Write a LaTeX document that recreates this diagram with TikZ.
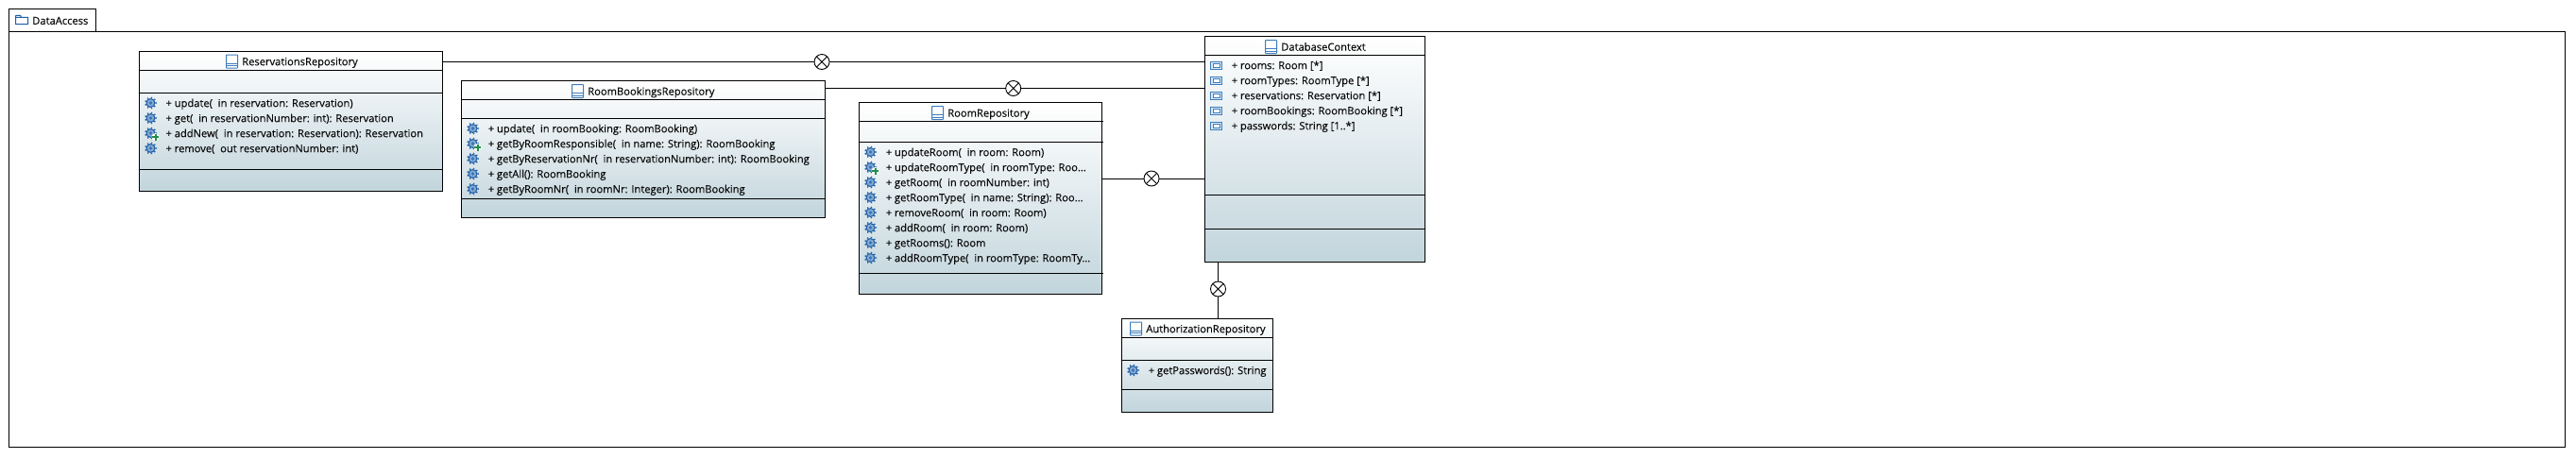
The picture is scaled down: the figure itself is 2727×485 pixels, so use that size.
\documentclass[tikz,border=0pt]{standalone}
\usepackage{fontspec}
\setmainfont{Open Sans}[FakeBold=0.2]
\definecolor{boxbot}{HTML}{C2D5DC}
\definecolor{gearblue}{HTML}{1F5FA8}
\definecolor{gearlight}{HTML}{86ABD3}
\definecolor{gearmid}{HTML}{3B74B4}
\definecolor{iconblue}{HTML}{3F7DBA}
\definecolor{iconfill}{HTML}{DCE9F5}
\definecolor{plusgreen}{HTML}{1F8F4B}
\definecolor{txt}{HTML}{0A0A0A}
\newcommand{\gearshape}{%
  \foreach \a in {0,40,...,320} {\fill[gearblue] (\a:5.6pt) circle (0.95pt);}
  \fill[gearblue] (0,0) circle (5pt);
  \fill[gearlight] (0,0) circle (3.7pt);
  \fill[gearmid] (0,0) circle (1.8pt);
}
\tikzset{
  x=1pt,y=-1pt,
  pkgframe/.style={draw=black,line width=1pt,fill=white,anchor=north west,inner sep=0pt,outer sep=0pt},
  classbox/.style={draw=black,line width=1pt,top color=white,bottom color=boxbot,anchor=north west,inner sep=0pt,outer sep=0pt},
  sepline/.style={draw=black,line width=1pt},
  conn/.style={draw=black,line width=1pt},
  nest/.style={circle,draw=black,line width=0.9pt,fill=white,minimum size=16pt,inner sep=0pt,outer sep=0pt},
  rowtext/.style={anchor=base west,inner sep=0pt,outer sep=0pt,text=txt,font=\fontsize{11.15}{13}\selectfont},
  gearicon/.pic={\gearshape},
  addgearicon/.pic={
    \gearshape
    \fill[white] (5,4) circle (4pt);
    \draw[plusgreen,line width=2pt] (5,0.5) -- (5,7.5) (1.5,4) -- (8.5,4);
  },
  attricon/.pic={
    \draw[iconblue,line width=1pt,fill=iconfill] (-6,-4) rectangle (6,4);
    \draw[iconblue,line width=0.8pt,fill=white] (-3.5,-2) rectangle (3.5,2);
  },
  classicon/.pic={
    \draw[iconblue,line width=1pt,fill=white,rounded corners=0.5pt] (-6,-7) rectangle (6,7);
    \draw[iconblue,line width=1pt] (-6,2) -- (6,2) (-6,4.5) -- (6,4.5);
  },
  foldericon/.pic={
    \draw[gearblue,line width=1pt,fill=white] (-6.5,-4.5) -- (-6.5,4.7) -- (6.5,4.7) -- (6.5,-2.5) -- (-6.5,-2.5) (-6.5,-4.5) -- (-1.5,-4.5) -- (-0.5,-2.5);
  }
}
% #1 name, #2 x, #3 y, #4 width, #5 height
\newcommand{\umlbox}[5]{\node[classbox,minimum width=#4pt,minimum height=#5pt] (#1) at (#2,#3) {};}
% #1 xa, #2 xb, #3 y
\newcommand{\sep}[3]{\draw[sepline] (#1,#3) -- (#2,#3);}
% #1 name, #2 icon x, #3 text x, #4 y centre, #5 text
\newcommand{\titlerow}[5]{\pic at (#2,#4) {classicon}; \node[rowtext] (#1) at (#3,#4+4.2) {#5};}
% #1 name, #2 icon style, #3 icon x, #4 text x, #5 y, #6 text
\newcommand{\featrow}[6]{\pic at (#3,#5) {#2}; \node[rowtext] (#1) at (#4,#5+4.2) {#6};}
\newcommand{\nestmark}[3]{\node[nest] (#1) at (#2,#3) {}; \draw[black,line width=0.9pt] (#1.45) -- (#1.225) (#1.135) -- (#1.315);}
\begin{document}
\begin{tikzpicture}
\useasboundingbox (0,0) rectangle (2727,485);
\fill[white] (0,0) rectangle (2727,485);
% package
\node[pkgframe,minimum width=2706pt,minimum height=440pt] (pkg) at (9.5,33) {};
\node[pkgframe,minimum width=92pt,minimum height=23.5pt] (tab) at (9.5,9.5) {};
\pic at (23,20.8) {foldericon};
\node[rowtext] (tabname) at (34.3,25.9) {DataAccess};
% ReservationsRepository
\umlbox{res}{147.5}{54.5}{320.5}{147.5}
\sep{146.5}{468}{74.5}\sep{146.5}{468}{98.5}\sep{146.5}{468}{179.5}
\titlerow{resname}{245.5}{256.3}{65}{ReservationsRepository}
\featrow{res1}{gearicon}{159.5}{175.5}{109}{+ update(~~in reservation: Reservation)}
\featrow{res2}{gearicon}{159.5}{175.5}{125}{+ get(~~in reservationNumber: int): Reservation}
\featrow{res3}{addgearicon}{159.5}{175.5}{141}{+ addNew(~~in reservation: Reservation): Reservation}
\featrow{res4}{gearicon}{159.5}{175.5}{157}{+ remove(~~out reservationNumber: int)}
% RoomBookingsRepository
\umlbox{book}{488.5}{85.5}{385}{145}
\sep{487.5}{873.5}{105.5}\sep{487.5}{873.5}{125.5}\sep{487.5}{873.5}{210.5}
\titlerow{bookname}{611.5}{622.3}{96.5}{RoomBookingsRepository}
\featrow{book1}{gearicon}{500.5}{516.7}{136}{+ update(~~in roomBooking: RoomBooking)}
\featrow{book2}{addgearicon}{500.5}{516.7}{152}{+ getByRoomResponsible(~~in name: String): RoomBooking}
\featrow{book3}{gearicon}{500.5}{516.7}{168}{+ getByReservationNr(~~in reservationNumber: int): RoomBooking}
\featrow{book4}{gearicon}{500.5}{516.7}{184}{+ getAll(): RoomBooking}
\featrow{book5}{gearicon}{500.5}{516.7}{200}{+ getByRoomNr(~~in roomNr: Integer): RoomBooking}
% RoomRepository
\umlbox{room}{909.5}{108.5}{257}{203}
\sep{909.5}{1167.5}{128.5}\sep{909.5}{1167.5}{150.5}\sep{909.5}{1167.5}{289.5}
\titlerow{roomname}{992.5}{1003.3}{119.5}{RoomRepository}
\featrow{room1}{gearicon}{921.5}{937.7}{161}{+ updateRoom(~~in room: Room)}
\featrow{room2}{addgearicon}{921.5}{937.7}{177}{+ updateRoomType(~~in roomType: Roo...}
\featrow{room3}{gearicon}{921.5}{937.7}{193}{+ getRoom(~~in roomNumber: int)}
\featrow{room4}{gearicon}{921.5}{937.7}{209}{+ getRoomType(~~in name: String): Roo...}
\featrow{room5}{gearicon}{921.5}{937.7}{225}{+ removeRoom(~~in room: Room)}
\featrow{room6}{gearicon}{921.5}{937.7}{241}{+ addRoom(~~in room: Room)}
\featrow{room7}{gearicon}{921.5}{937.7}{257}{+ getRooms(): Room}
\featrow{room8}{gearicon}{921.5}{937.7}{273}{+ addRoomType(~~in roomType: RoomTy...}
% DatabaseContext
\umlbox{db}{1275.5}{38.5}{233}{238.5}
\sep{1274.5}{1508.5}{58.5}\sep{1274.5}{1508.5}{206.5}\sep{1274.5}{1508.5}{242.5}
\titlerow{dbname}{1345.5}{1356.3}{49.5}{DatabaseContext}
\featrow{db1}{attricon}{1287.5}{1303.7}{69}{+ rooms: Room [*]}
\featrow{db2}{attricon}{1287.5}{1303.7}{85}{+ roomTypes: RoomType [*]}
\featrow{db3}{attricon}{1287.5}{1303.7}{101}{+ reservations: Reservation [*]}
\featrow{db4}{attricon}{1287.5}{1303.7}{117}{+ roomBookings: RoomBooking [*]}
\featrow{db5}{attricon}{1287.5}{1303.7}{133}{+ passwords: String [1..*]}
% AuthorizationRepository
\umlbox{auth}{1187.5}{337.5}{160}{99}
\sep{1186.5}{1347.5}{357.5}\sep{1186.5}{1347.5}{381.5}\sep{1186.5}{1347.5}{412.5}
\titlerow{authname}{1202.5}{1213.3}{348}{AuthorizationRepository}
\featrow{auth1}{gearicon}{1199.5}{1215.7}{392}{+ getPasswords(): String}
% connectors
\nestmark{m1}{870}{65.5}
\nestmark{m2}{1072.7}{93.5}
\nestmark{m3}{1219}{189}
\nestmark{m4}{1289.5}{306}
\draw[conn] (res.east |- m1) -- (m1.west);
\draw[conn] (m1.east) -- (db.west |- m1);
\draw[conn] (book.east |- m2) -- (m2.west);
\draw[conn] (m2.east) -- (db.west |- m2);
\draw[conn] (room.east |- m3) -- (m3.west);
\draw[conn] (m3.east) -- (db.west |- m3);
\draw[conn] (db.south -| m4) -- (m4.north);
\draw[conn] (m4.south) -- (auth.north -| m4);
\end{tikzpicture}
\end{document}
